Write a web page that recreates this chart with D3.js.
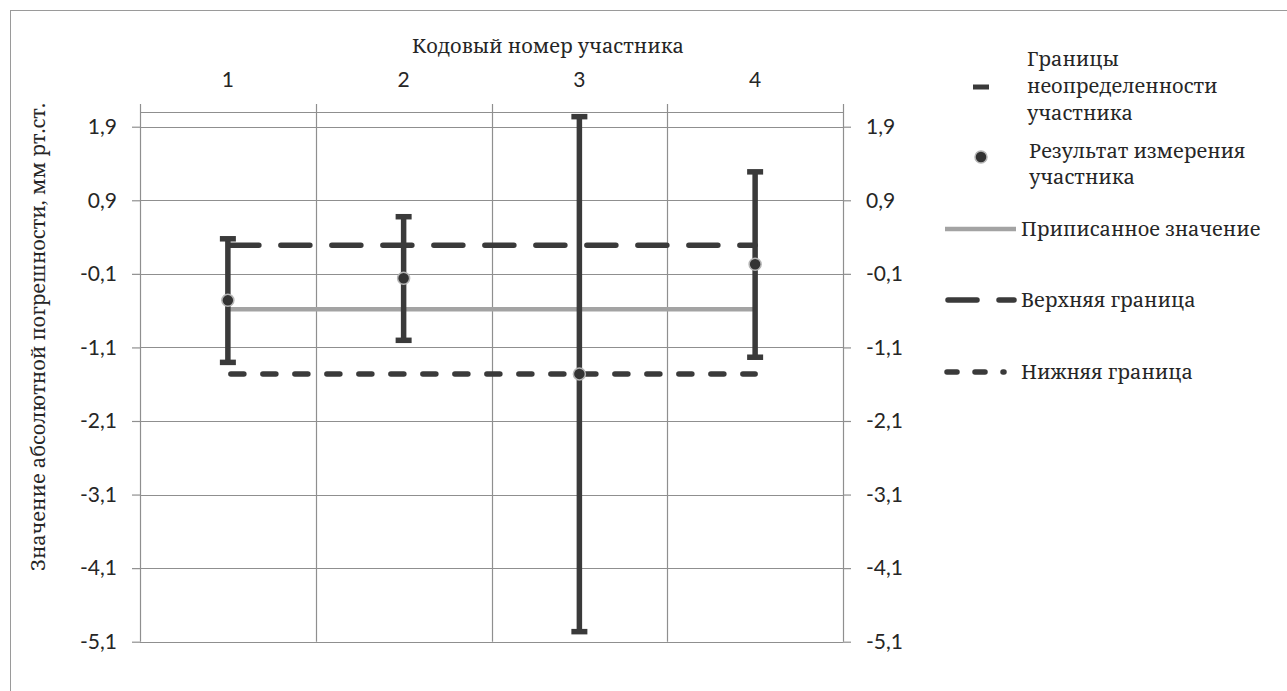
<!DOCTYPE html>
<html>
<head>
<meta charset="utf-8">
<script src="https://cdn.jsdelivr.net/npm/d3@7"></script>
<style>
  html, body { margin: 0; padding: 0; background: #fff; }
  svg { display: block; }
</style>
</head>
<body>
<svg id="chart" width="1287" height="691"></svg>
<script>
// Participant codes and their results with expanded uncertainty
const participants = ["1", "2", "3", "4"];
const results      = [-0.46, -0.16, -1.46, 0.03];
const uncertainty  = [0.84, 0.84, 3.50, 1.26];

// Assigned value and acceptance limits
const assignedValue = -0.58;
const upperLimit    = 0.29;
const lowerLimit    = -1.46;

// Value axis ticks
const yTicks = [1.9, 0.9, -0.1, -1.1, -2.1, -3.1, -4.1, -5.1];
const yDomain = [-5.1, 2.1];

const yTitle = "Значение абсолютной погрешности, мм рт.ст.";
const xTitle = "Кодовый номер участника";
const legendItems = [
  ["Границы", "неопределенности", "участника"],
  ["Результат измерения", "участника"],
  ["Приписанное значение"],
  ["Верхняя граница"],
  ["Нижняя граница"]
];

const svg = d3.select("#chart");
const plot = { left: 140, right: 843, top: 112, bottom: 641.7 };

const ink = "#3a3a3a";
const grid = "#8f8f8f";
const txt = "#262626";
const SERIF = '"Noto Serif", "DejaVu Serif", serif';
const SANS = 'Lato, "Open Sans", sans-serif';

const fmt = v => d3.format(".1f")(v).replace(".", ",").replace("−", "-");

const x = d3.scaleBand().domain(participants).range([plot.left, plot.right]).padding(0);
const xc = p => x(p) + x.bandwidth() / 2;
const y = d3.scaleLinear().domain(yDomain).range([plot.bottom, plot.top]);

// Outer chart frame
svg.append("rect")
  .attr("x", 10.5).attr("y", 10.5)
  .attr("width", 1300).attr("height", 700)
  .attr("fill", "none").attr("stroke", "#9a9a9a").attr("stroke-width", 1);

// Horizontal gridlines (including the top edge of the plot)
const g = svg.append("g");
g.selectAll("line.h")
  .data(yTicks.concat([yDomain[1]]))
  .join("line")
  .attr("x1", plot.left).attr("x2", plot.right)
  .attr("y1", d => Math.round(y(d)) + 0.5).attr("y2", d => Math.round(y(d)) + 0.5)
  .attr("stroke", grid).attr("stroke-width", 1.2);

// Vertical gridlines at category boundaries, with small ticks above the plot
const bounds = participants.map(p => x(p)).concat([plot.right]);
g.selectAll("line.v")
  .data(bounds)
  .join("line")
  .attr("x1", d => Math.round(d) + 0.5).attr("x2", d => Math.round(d) + 0.5)
  .attr("y1", plot.top - 8).attr("y2", plot.bottom)
  .attr("stroke", grid).attr("stroke-width", 1.2);

// Left value axis
const leftAxis = svg.append("g")
  .attr("transform", `translate(${plot.left},0)`)
  .call(d3.axisLeft(y).tickValues(yTicks).tickFormat(fmt).tickSize(8).tickPadding(15));
// Right value axis
const rightAxis = svg.append("g")
  .attr("transform", `translate(${plot.right},0)`)
  .call(d3.axisRight(y).tickValues(yTicks).tickFormat(fmt).tickSize(8).tickPadding(15));
[leftAxis, rightAxis].forEach(a => {
  a.select(".domain").remove();
  a.selectAll(".tick line").attr("stroke", grid).attr("stroke-width", 1.2);
  a.selectAll(".tick text")
    .attr("fill", txt).style("font-family", SANS).style("font-size", "21px");
});

// Category axis at the top
const topAxis = svg.append("g")
  .attr("transform", `translate(0,${plot.top})`)
  .call(d3.axisTop(x).tickSize(0).tickPadding(25));
topAxis.select(".domain").remove();
topAxis.selectAll(".tick text")
  .attr("fill", txt).style("font-family", SANS).style("font-size", "21px");

// Axis titles
svg.append("text")
  .attr("x", 548).attr("y", 53)
  .attr("text-anchor", "middle")
  .attr("fill", txt).style("font-family", SERIF).style("font-size", "20px")
  .text(xTitle);

svg.append("text")
  .attr("transform", `translate(45,337) rotate(-90)`)
  .attr("text-anchor", "middle")
  .attr("fill", txt).style("font-family", SERIF).style("font-size", "20px")
  .text(yTitle);

// Reference lines spanning the participants
const xFirst = xc(participants[0]);
const xLast = xc(participants[participants.length - 1]);

svg.append("line")
  .attr("x1", xFirst).attr("x2", xLast)
  .attr("y1", y(assignedValue)).attr("y2", y(assignedValue))
  .attr("stroke", "#a3a3a3").attr("stroke-width", 4.5);

svg.append("line")
  .attr("x1", xFirst + 2).attr("x2", xLast)
  .attr("y1", y(upperLimit)).attr("y2", y(upperLimit))
  .attr("stroke", ink).attr("stroke-width", 5.5)
  .attr("stroke-linecap", "round").attr("stroke-dasharray", "29,22");

svg.append("line")
  .attr("x1", xFirst + 3).attr("x2", xLast)
  .attr("y1", y(lowerLimit)).attr("y2", y(lowerLimit))
  .attr("stroke", ink).attr("stroke-width", 5.5)
  .attr("stroke-linecap", "round").attr("stroke-dasharray", "13,19");

// Uncertainty bars
const bars = svg.append("g").selectAll("g")
  .data(participants.map((p, i) => ({ p, v: results[i], u: uncertainty[i] })))
  .join("g");
bars.append("line")
  .attr("x1", d => xc(d.p)).attr("x2", d => xc(d.p))
  .attr("y1", d => y(d.v + d.u)).attr("y2", d => y(d.v - d.u))
  .attr("stroke", ink).attr("stroke-width", 5.5);
bars.selectAll("rect")
  .data(d => [{ p: d.p, e: d.v + d.u }, { p: d.p, e: d.v - d.u }])
  .join("rect")
  .attr("x", d => xc(d.p) - 8).attr("y", d => y(d.e) - 2.5)
  .attr("width", 16).attr("height", 5.5)
  .attr("fill", ink);

// Measurement results
bars.append("circle")
  .attr("cx", d => xc(d.p)).attr("cy", d => y(d.v))
  .attr("r", 6)
  .attr("fill", "#333").attr("stroke", "#b5b5b5").attr("stroke-width", 1.5);

// Legend
const lg = svg.append("g");
const legText = (lines, x0, y0, lh) => {
  const t = lg.append("text")
    .attr("fill", txt).style("font-family", SERIF).style("font-size", "20px");
  lines.forEach((s, i) => t.append("tspan").attr("x", x0).attr("y", y0 + i * lh).text(s));
};

lg.append("line").attr("x1", 973).attr("x2", 989).attr("y1", 87).attr("y2", 87)
  .attr("stroke", ink).attr("stroke-width", 5);
legText(legendItems[0], 1027, 66, 27);

lg.append("circle").attr("cx", 981).attr("cy", 157).attr("r", 6)
  .attr("fill", "#333").attr("stroke", "#b5b5b5").attr("stroke-width", 1.5);
legText(legendItems[1], 1029, 158, 26);

lg.append("line").attr("x1", 945).attr("x2", 1016).attr("y1", 229).attr("y2", 229)
  .attr("stroke", "#a3a3a3").attr("stroke-width", 4.5);
legText(legendItems[2], 1021, 236, 26);

lg.append("line").attr("x1", 948).attr("x2", 1014).attr("y1", 300).attr("y2", 300)
  .attr("stroke", ink).attr("stroke-width", 5.5)
  .attr("stroke-linecap", "round").attr("stroke-dasharray", "29,22");
legText(legendItems[3], 1021, 307, 26);

lg.append("line").attr("x1", 947).attr("x2", 1004).attr("y1", 372).attr("y2", 372)
  .attr("stroke", ink).attr("stroke-width", 5.5)
  .attr("stroke-linecap", "round").attr("stroke-dasharray", "10,18");
legText(legendItems[4], 1021, 379, 26);
</script>
</body>
</html>
